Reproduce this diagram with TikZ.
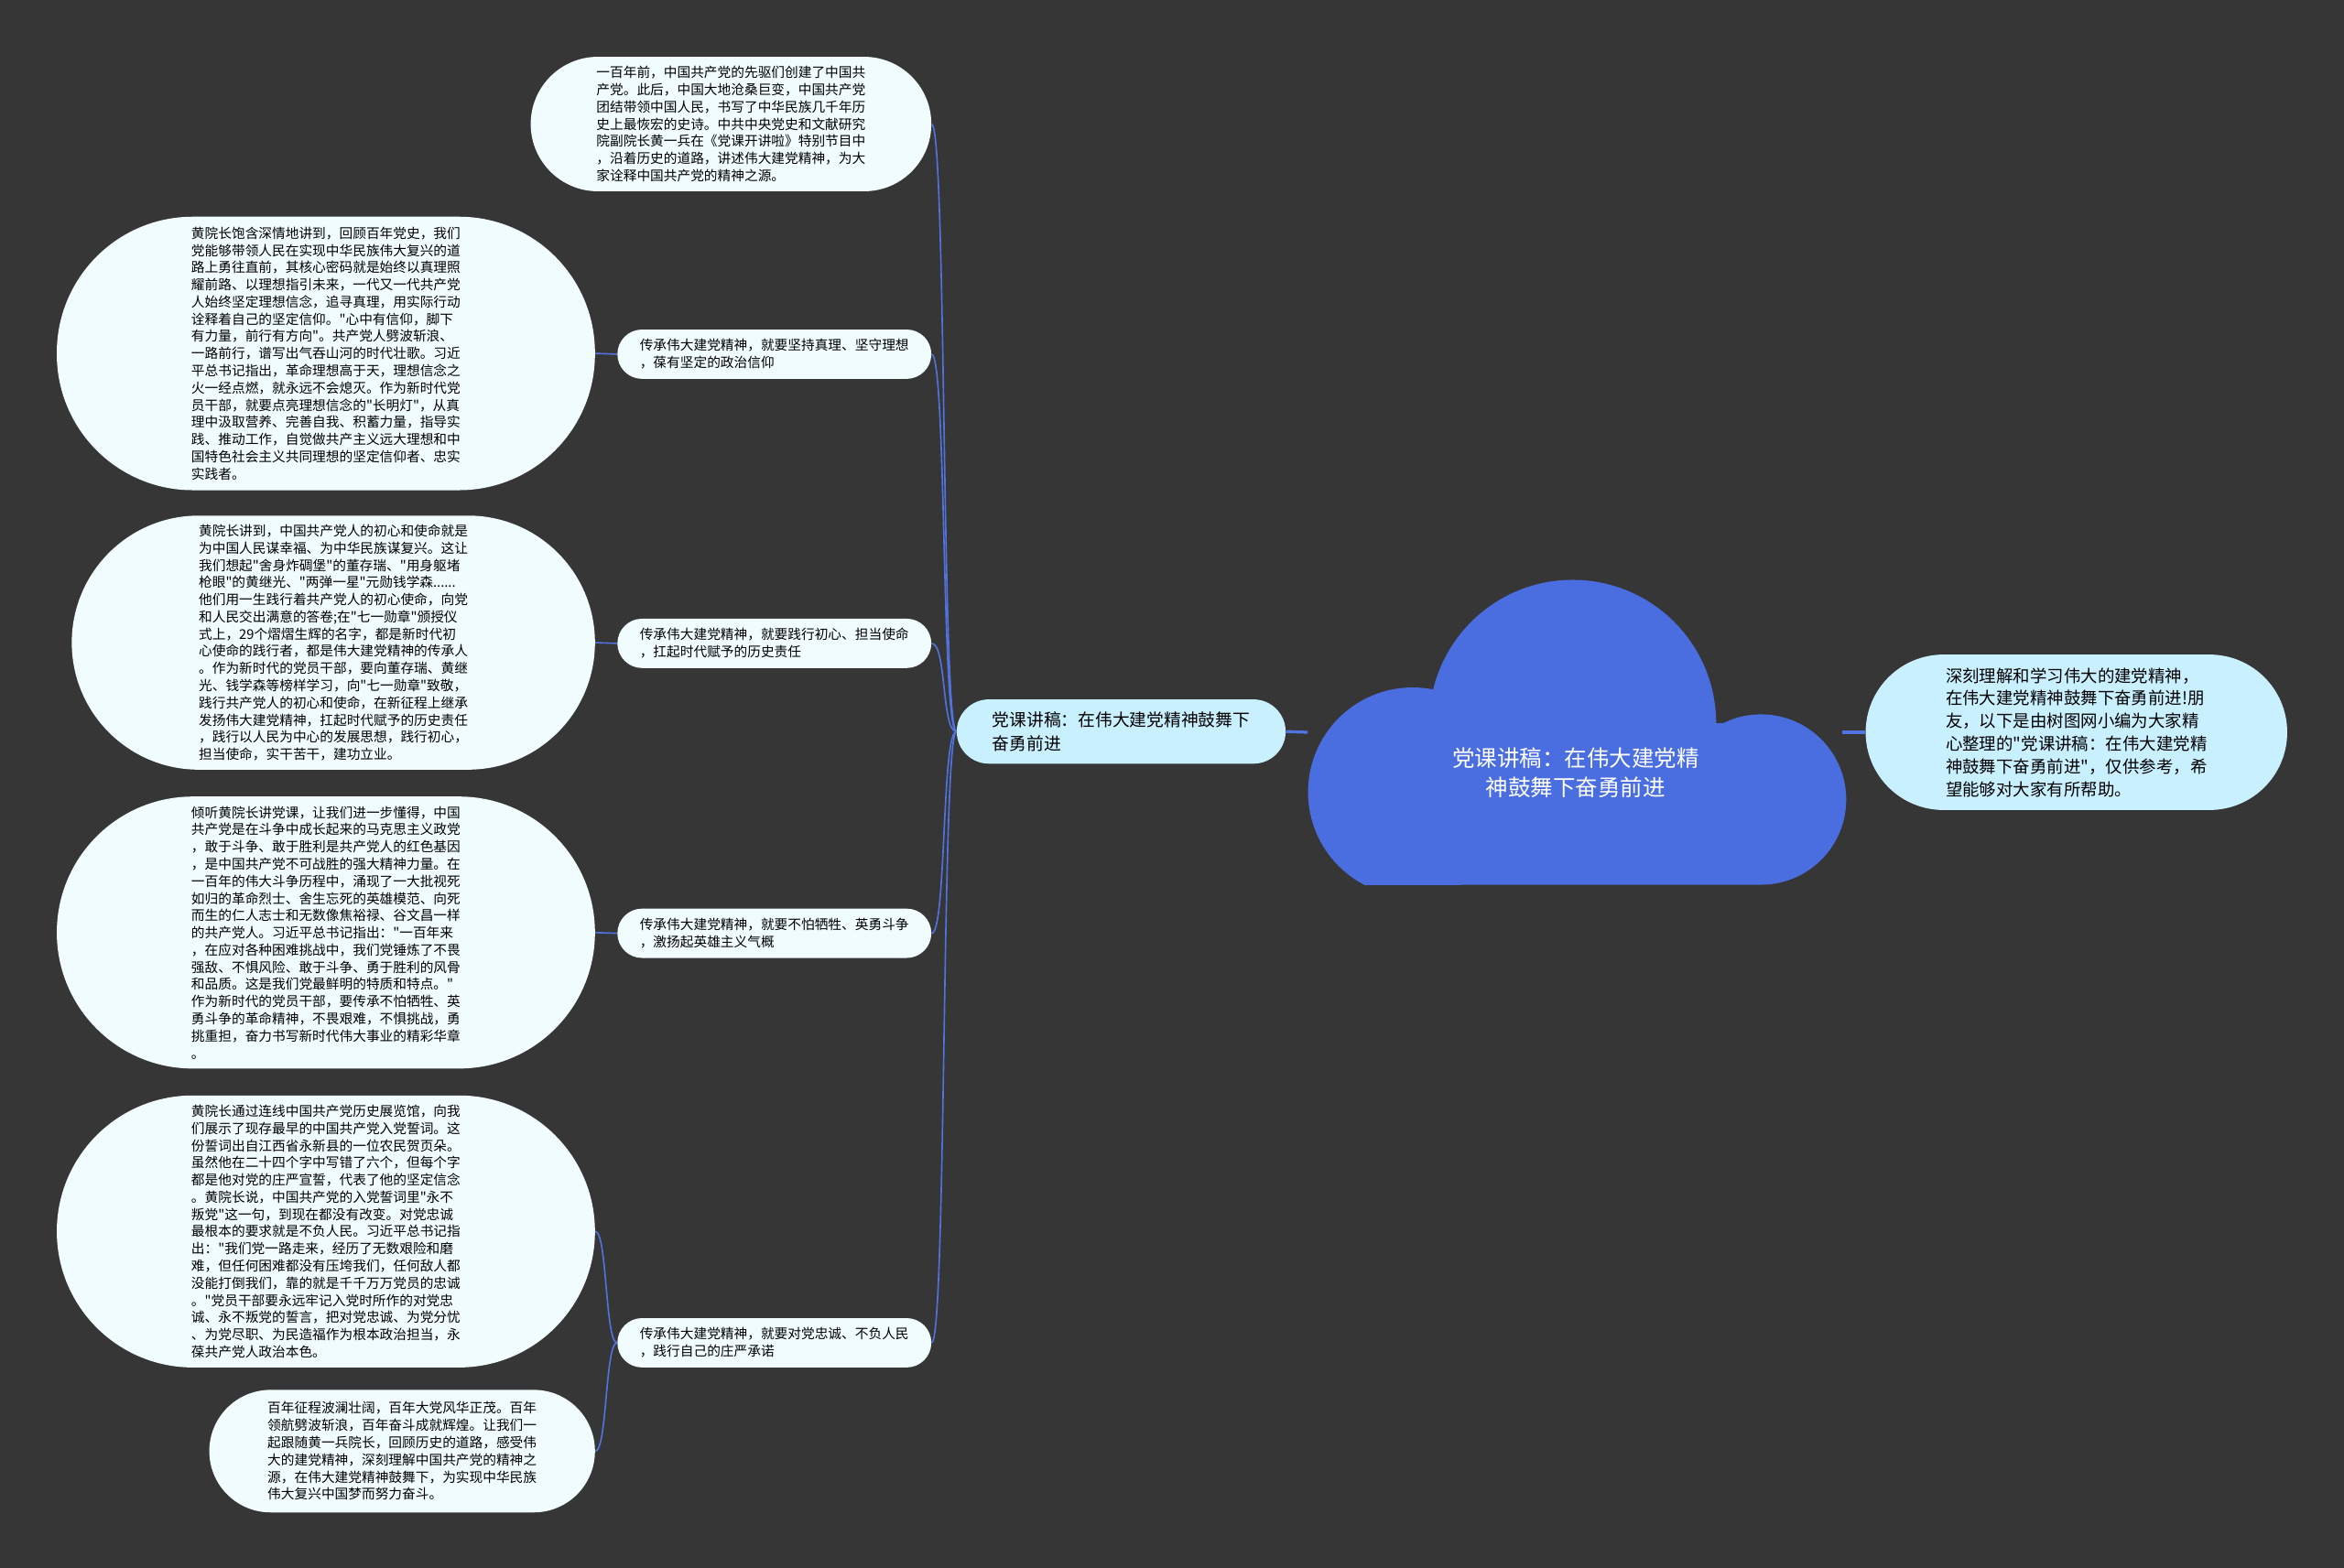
\documentclass[tikz,border=0pt]{standalone}
\usepackage{fontspec}
\newfontfamily\cjk{Noto Sans CJK SC}
\definecolor{bgcol}{HTML}{363636}
\definecolor{leafcol}{HTML}{F0FCFE}
\definecolor{subcol}{HTML}{C9F0FF}
\definecolor{cloudcol}{HTML}{4A6EE0}
\definecolor{linkcol}{HTML}{5073E0}

\begin{document}
\begin{tikzpicture}[x=1pt,y=-1pt,
	leaf/.style={fill=leafcol, inner sep=0pt, align=left, font=\cjk\fontsize{9}{11.5}\selectfont},
	sub/.style={fill=subcol, inner sep=0pt, align=left},
	link/.style={draw=linkcol, line width=1pt}]
	\fill[bgcol] (0,0) rectangle (1568,1049);

	% cloud
	\begin{scope}
	\clip (870,380) rectangle (1240,592);
	\fill[cloudcol] (1052,484) circle[radius=96pt] (1178,535) circle[radius=57pt]
		(945,530) circle[radius=70pt] (945,484) rectangle (1178,592);
	\end{scope}
	\node[minimum width=357pt, minimum height=204pt, inner sep=0pt] (root) at (1053.5,490) {};
	\node[text=white, align=center, font=\cjk\fontsize{15}{20}\selectfont] (roottxt) at (1054,517) {党课讲稿：在伟大建党精\\神鼓舞下奋勇前进};

	\node[sub, minimum width=282pt, minimum height=104pt, rounded corners=52pt, font=\cjk\fontsize{11.3}{15.2}\selectfont] (intro) at (1389,490) {深刻理解和学习伟大的建党精神，\\在伟大建党精神鼓舞下奋勇前进!朋\\友，以下是由树图网小编为大家精\\心整理的"党课讲稿：在伟大建党精\\神鼓舞下奋勇前进"，仅供参考，希\\望能够对大家有所帮助。};
	\node[sub, minimum width=220pt, minimum height=43pt, rounded corners=21.5pt, font=\cjk\fontsize{11.5}{15.5}\selectfont] (branch) at (750,489.5) {党课讲稿：在伟大建党精神鼓舞下\\奋勇前进};

	\node[leaf, minimum width=268pt, minimum height=90pt, rounded corners=45pt] (top) at (489,83) {一百年前，中国共产党的先驱们创建了中国共\\产党。此后，中国大地沧桑巨变，中国共产党\\团结带领中国人民，书写了中华民族几千年历\\史上最恢宏的史诗。中共中央党史和文献研究\\院副院长黄一兵在《党课开讲啦》特别节目中\\，沿着历史的道路，讲述伟大建党精神，为大\\家诠释中国共产党的精神之源。};

	\node[leaf, minimum width=210pt, minimum height=33pt, rounded corners=16.5pt] (mid1) at (518,237) {传承伟大建党精神，就要坚持真理、坚守理想\\，葆有坚定的政治信仰};
	\node[leaf, minimum width=210pt, minimum height=33pt, rounded corners=16.5pt] (mid2) at (518,430.5) {传承伟大建党精神，就要践行初心、担当使命\\，扛起时代赋予的历史责任};
	\node[leaf, minimum width=210pt, minimum height=33pt, rounded corners=16.5pt] (mid3) at (518,624.5) {传承伟大建党精神，就要不怕牺牲、英勇斗争\\，激扬起英雄主义气概};
	\node[leaf, minimum width=210pt, minimum height=33pt, rounded corners=16.5pt] (mid4) at (518,898.5) {传承伟大建党精神，就要对党忠诚、不负人民\\，践行自己的庄严承诺};

	\node[leaf, minimum width=360pt, minimum height=183pt, rounded corners=91pt] (left1) at (218,236.5) {黄院长饱含深情地讲到，回顾百年党史，我们\\党能够带领人民在实现中华民族伟大复兴的道\\路上勇往直前，其核心密码就是始终以真理照\\耀前路、以理想指引未来，一代又一代共产党\\人始终坚定理想信念，追寻真理，用实际行动\\诠释着自己的坚定信仰。"心中有信仰，脚下\\有力量，前行有方向"。共产党人劈波斩浪、\\一路前行，谱写出气吞山河的时代壮歌。习近\\平总书记指出，革命理想高于天，理想信念之\\火一经点燃，就永远不会熄灭。作为新时代党\\员干部，就要点亮理想信念的"长明灯"，从真\\理中汲取营养、完善自我、积蓄力量，指导实\\践、推动工作，自觉做共产主义远大理想和中\\国特色社会主义共同理想的坚定信仰者、忠实\\实践者。};
	\node[leaf, minimum width=350pt, minimum height=170pt, rounded corners=85pt] (left2) at (223,430) {黄院长讲到，中国共产党人的初心和使命就是\\为中国人民谋幸福、为中华民族谋复兴。这让\\我们想起"舍身炸碉堡"的董存瑞、"用身躯堵\\枪眼"的黄继光、"两弹一星"元勋钱学森......\\他们用一生践行着共产党人的初心使命，向党\\和人民交出满意的答卷;在"七一勋章"颁授仪\\式上，29个熠熠生辉的名字，都是新时代初\\心使命的践行者，都是伟大建党精神的传承人\\。作为新时代的党员干部，要向董存瑞、黄继\\光、钱学森等榜样学习，向"七一勋章"致敬，\\践行共产党人的初心和使命，在新征程上继承\\发扬伟大建党精神，扛起时代赋予的历史责任\\，践行以人民为中心的发展思想，践行初心，\\担当使命，实干苦干，建功立业。};
	\node[leaf, minimum width=360pt, minimum height=182pt, rounded corners=91pt] (left3) at (218,624) {倾听黄院长讲党课，让我们进一步懂得，中国\\共产党是在斗争中成长起来的马克思主义政党\\，敢于斗争、敢于胜利是共产党人的红色基因\\，是中国共产党不可战胜的强大精神力量。在\\一百年的伟大斗争历程中，涌现了一大批视死\\如归的革命烈士、舍生忘死的英雄模范、向死\\而生的仁人志士和无数像焦裕禄、谷文昌一样\\的共产党人。习近平总书记指出："一百年来\\，在应对各种困难挑战中，我们党锤炼了不畏\\强敌、不惧风险、敢于斗争、勇于胜利的风骨\\和品质。这是我们党最鲜明的特质和特点。"\\作为新时代的党员干部，要传承不怕牺牲、英\\勇斗争的革命精神，不畏艰难，不惧挑战，勇\\挑重担，奋力书写新时代伟大事业的精彩华章\\。};
	\node[leaf, minimum width=360pt, minimum height=182pt, rounded corners=91pt] (left4) at (218,824) {黄院长通过连线中国共产党历史展览馆，向我\\们展示了现存最早的中国共产党入党誓词。这\\份誓词出自江西省永新县的一位农民贺页朵。\\虽然他在二十四个字中写错了六个，但每个字\\都是他对党的庄严宣誓，代表了他的坚定信念\\。黄院长说，中国共产党的入党誓词里"永不\\叛党"这一句，到现在都没有改变。对党忠诚\\最根本的要求就是不负人民。习近平总书记指\\出："我们党一路走来，经历了无数艰险和磨\\难，但任何困难都没有压垮我们，任何敌人都\\没能打倒我们，靠的就是千千万万党员的忠诚\\。"党员干部要永远牢记入党时所作的对党忠\\诚、永不叛党的誓言，把对党忠诚、为党分忧\\、为党尽职、为民造福作为根本政治担当，永\\葆共产党人政治本色。};
	\node[leaf, minimum width=258pt, minimum height=82pt, rounded corners=41pt] (bottom) at (269,971) {百年征程波澜壮阔，百年大党风华正茂。百年\\领航劈波斩浪，百年奋斗成就辉煌。让我们一\\起跟随黄一兵院长，回顾历史的道路，感受伟\\大的建党精神，深刻理解中国共产党的精神之\\源，在伟大建党精神鼓舞下，为实现中华民族\\伟大复兴中国梦而努力奋斗。};

	% connectors
	\draw[link, line width=2pt] (root.east) -- (intro.west);
	\draw[link, line width=2pt] (branch.east) -- (root.west);
	\foreach \n in {top,mid1,mid2,mid3,mid4}
		\draw[link] (branch.west) .. controls +(-10,0) and +(10,0) .. (\n.east);
	\draw[link] (mid1.west) -- (left1.east);
	\draw[link] (mid2.west) -- (left2.east);
	\draw[link] (mid3.west) -- (left3.east);
	\draw[link] (mid4.west) .. controls +(-8,0) and +(8,0) .. (left4.east);
	\draw[link] (mid4.west) .. controls +(-8,0) and +(8,0) .. (bottom.east);
\end{tikzpicture}
\end{document}
